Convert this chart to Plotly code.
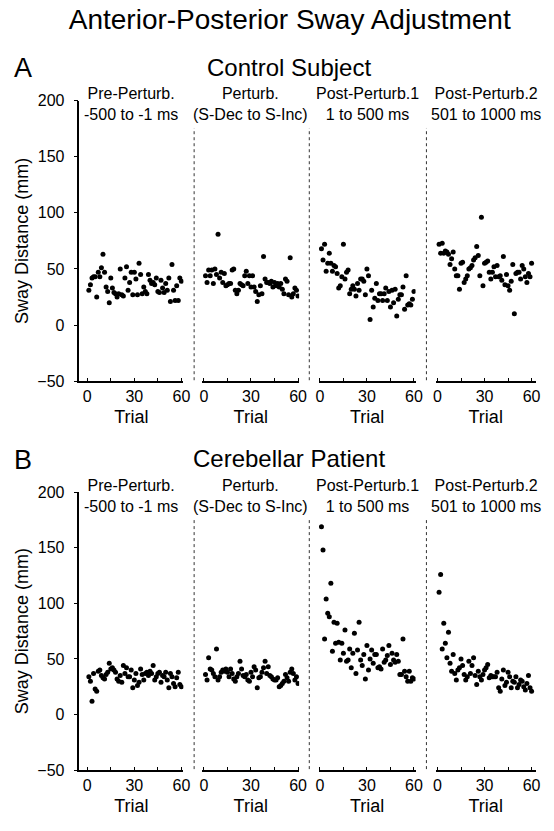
import plotly.graph_objects as go

# ---------------- data ----------------
trials = list(range(1, 61))

conditions = ["Pre-Perturb.<br>-500 to -1 ms",
              "Perturb.<br>(S-Dec to S-Inc)",
              "Post-Perturb.1<br>1 to 500 ms",
              "Post-Perturb.2<br>501 to 1000 ms"]

control_pre = [31, 36, 42, 43, 43, 25, 47, 43, 51, 63,
               47, 34, 30, 20, 42, 33, 29, 28, 25, 28,
               50, 27, 26, 42, 52, 31, 38, 47, 27, 47,
               41, 27, 55, 45, 28, 34, 30, 28, 45, 40,
               37, 38, 36, 42, 30, 29, 40, 33, 29, 37,
               31, 42, 21, 54, 31, 22, 35, 22, 42, 39]
control_perturb = [44, 38, 49, 44, 49, 37, 50, 45, 81, 42,
                   47, 38, 46, 35, 36, 37, 37, 49, 50, 31,
                   28, 31, 37, 36, 35, 44, 48, 37, 44, 34,
                   44, 34, 30, 21, 27, 35, 28, 61, 41, 38,
                   38, 37, 39, 34, 38, 35, 37, 34, 37, 32,
                   28, 41, 39, 27, 60, 25, 28, 33, 31, 26]
control_post1 = [68, 58, 72, 48, 55, 64, 55, 48, 53, 52,
                 46, 33, 35, 43, 72, 41, 47, 49, 28, 32,
                 35, 32, 26, 37, 31, 41, 41, 39, 27, 50,
                 44, 5, 31, 16, 24, 37, 22, 28, 28, 22,
                 28, 33, 22, 30, 16, 31, 20, 32, 8, 23,
                 27, 27, 34, 14, 44, 18, 19, 18, 23, 30]
control_post2 = [72, 64, 73, 64, 66, 65, 63, 54, 59, 65,
                 50, 44, 44, 32, 55, 56, 38, 41, 44, 50,
                 51, 53, 58, 60, 70, 62, 44, 96, 35, 55,
                 56, 57, 47, 41, 47, 52, 43, 53, 43, 44,
                 40, 61, 36, 45, 35, 31, 39, 54, 10, 46,
                 47, 47, 41, 53, 50, 43, 38, 46, 43, 55]

patient_pre = [34, 30, 12, 37, 23, 21, 39, 40, 35, 33,
               32, 36, 38, 46, 41, 42, 40, 38, 32, 30,
               35, 29, 44, 37, 42, 34, 34, 40, 24, 31,
               37, 26, 29, 41, 36, 31, 37, 38, 35, 39,
               37, 44, 31, 34, 37, 38, 29, 35, 34, 38,
               31, 24, 37, 34, 28, 25, 33, 38, 27, 25]
patient_perturb = [36, 31, 51, 41, 40, 37, 34, 59, 31, 34,
                   38, 40, 39, 41, 38, 34, 41, 37, 32, 30,
                   34, 37, 48, 41, 35, 34, 36, 31, 30, 38,
                   34, 43, 40, 24, 33, 34, 38, 42, 48, 37,
                   43, 35, 34, 32, 31, 31, 33, 25, 26, 28,
                   30, 36, 33, 30, 38, 41, 37, 31, 34, 28]
patient_post1 = [169, 148, 68, 104, 91, 88, 118, 57, 83, 64,
                 82, 65, 49, 64, 55, 76, 48, 49, 59, 42,
                 55, 73, 37, 58, 83, 49, 44, 54, 32, 62,
                 40, 50, 58, 46, 54, 54, 42, 43, 41, 59,
                 47, 49, 53, 62, 45, 55, 49, 47, 54, 48,
                 36, 36, 68, 39, 34, 30, 39, 30, 33, 32]
patient_post2 = [110, 126, 59, 82, 64, 51, 74, 46, 39, 54,
                 37, 31, 40, 42, 50, 44, 36, 31, 34, 48,
                 37, 44, 51, 35, 27, 39, 34, 31, 36, 40,
                 42, 45, 33, 35, 34, 34, 34, 38, 24, 21,
                 32, 40, 26, 29, 38, 34, 24, 30, 29, 34,
                 24, 27, 31, 30, 25, 22, 28, 35, 24, 21]

y_ticks = [-50, 0, 50, 100, 150, 200]
x_tickvals = [0, 15, 30, 45, 60]
x_ticktext = ["0", "", "30", "", "60"]

panels = [
    {"letter": "A", "name": "Control Subject",
     "series": [control_pre, control_perturb, control_post1, control_post2]},
    {"letter": "B", "name": "Cerebellar Patient",
     "series": [patient_pre, patient_perturb, patient_post1, patient_post2]},
]

# ---------------- layout geometry (pixels) ----------------
W, H = 554, 831
PX_PER_TRIAL = 1.6
zero_px = [86, 205, 323.3, 443.3]
x_ranges = [[-5, 61.3], [-1, 60.7], [-0.7, 61], [-1, 62.5]]
# panel vertical extents (top = y 200, bottom = y -50)
panel_px = [(94.5, 381.0), (494.3, 778.0)]
sep_px = [195, 312.5, 432]

FONT = "Liberation Sans, Arial, Helvetica, sans-serif"

fig = go.Figure()
layout = dict(
    width=W, height=H, margin=dict(l=0, r=0, t=0, b=0),
    paper_bgcolor="white", plot_bgcolor="white",
    showlegend=False, font=dict(family=FONT, color="black", size=16),
)
annotations = []
shapes = []

for p, panel in enumerate(panels):
    top_px, bot_px = panel_px[p]
    ydom = [1 - bot_px / H, 1 - top_px / H]
    for k in range(4):
        idx = p * 4 + k + 1
        sfx = "" if idx == 1 else str(idx)
        r0, r1 = x_ranges[k]
        left = zero_px[k] + r0 * PX_PER_TRIAL
        right = zero_px[k] + r1 * PX_PER_TRIAL
        xdom = [left / W, right / W]
        fig.add_trace(go.Scatter(
            x=trials, y=panel["series"][k], mode="markers",
            marker=dict(color="black", size=5),
            xaxis="x" + sfx, yaxis="y" + sfx, hoverinfo="x+y"))
        layout["xaxis" + sfx] = dict(
            domain=xdom, range=[r0, r1], anchor="y" + sfx,
            showgrid=False, zeroline=False, showline=True,
            linecolor="black", linewidth=1.5,
            tickvals=x_tickvals, ticktext=x_ticktext,
            ticks="inside", ticklen=3, tickcolor="black",
            tickfont=dict(size=16),
            title=dict(text="Trial", font=dict(size=18), standoff=6),
        )
        ydict = dict(
            domain=ydom, range=[-50, 200], anchor="x" + sfx,
            showgrid=False, zeroline=False,
        )
        if k == 0:
            ydict.update(
                showline=True, linecolor="black", linewidth=1.5,
                tickvals=y_ticks, ticks="outside", ticklen=4,
                tickcolor="black", tickfont=dict(size=16),
                ticklabelstandoff=6,
                title=dict(text="Sway Distance (mm)",
                           font=dict(size=18), standoff=4),
            )
        else:
            ydict.update(visible=False)
        layout["yaxis" + sfx] = ydict

        # condition label (two lines, inside the top of the plot area)
        annotations.append(dict(
            text=conditions[k], x=(xdom[0] + xdom[1]) / 2,
            y=1 - (top_px + 4) / H, xref="paper", yref="paper",
            xanchor="center", yanchor="middle", showarrow=False,
            font=dict(size=16), align="center"))

    # dotted separators
    for sx in sep_px:
        shapes.append(dict(
            type="line", xref="paper", yref="paper",
            x0=sx / W, x1=sx / W,
            y0=1 - (bot_px - 1) / H, y1=1 - (top_px + 28) / H,
            line=dict(color="#333333", width=1, dash="dot")))

    # panel letter and name
    annotations.append(dict(
        text=panel["letter"], x=20 / W, y=1 - (top_px - 33) / H,
        xref="paper", yref="paper", xanchor="center", yanchor="middle",
        showarrow=False, font=dict(size=27)))
    annotations.append(dict(
        text=panel["name"], x=292 / W, y=1 - (top_px - 34) / H,
        xref="paper", yref="paper", xanchor="center", yanchor="middle",
        showarrow=False, font=dict(size=24)))

layout["annotations"] = annotations
layout["shapes"] = shapes
layout["title"] = dict(
    text="Anterior-Posterior Sway Adjustment", x=0.523, xanchor="center",
    y=1 - 19 / H, yanchor="middle", font=dict(size=28))

fig.update_layout(**layout)
fig.write_html("out.html")
